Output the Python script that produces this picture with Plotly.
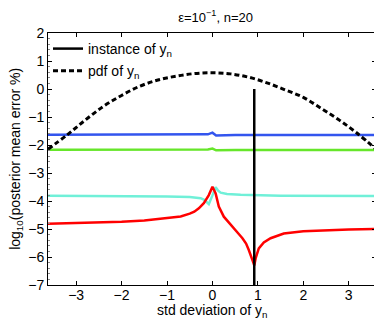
import plotly.graph_objects as go

# axe des x commun (écarts-types de y_n)
x_bleu = [-3.62, -1.0, -0.1, 0.0, 0.08, 0.5, 3.6]
y_bleu = [-1.63, -1.63, -1.62, -1.56, -1.66, -1.64, -1.64]

x_vert = [-3.62, -1.0, -0.1, 0.0, 0.08, 0.5, 3.6]
y_vert = [-2.17, -2.17, -2.16, -2.13, -2.19, -2.18, -2.18]

x_cyan = [-3.62, -2.0, -1.0, -0.5, -0.26, -0.18, -0.12, -0.08, 0.0, 0.07, 0.12, 0.18, 0.32, 0.62, 1.5, 3.6]
y_cyan = [-3.81, -3.82, -3.84, -3.86, -3.90, -3.96, -4.05, -4.11, -3.80, -3.51, -3.62, -3.70, -3.75, -3.78, -3.81, -3.82]

x_rouge = [-3.62, -2.5, -2.0, -1.5, -1.0, -0.7, -0.5, -0.4, -0.3, -0.19, -0.08, 0.0, 0.07, 0.14, 0.25,
           0.36, 0.47, 0.57, 0.66, 0.74, 0.8, 0.86, 0.9, 0.92, 0.95, 1.02, 1.13, 1.28, 1.57, 2.0, 2.5, 3.0, 3.6]
y_rouge = [-4.81, -4.77, -4.74, -4.70, -4.62, -4.55, -4.45, -4.38, -4.26, -4.08, -3.79, -3.49, -3.73, -4.20, -4.56,
           -4.78, -4.98, -5.16, -5.33, -5.52, -5.75, -5.98, -6.20, -6.30, -6.05, -5.69, -5.48, -5.33, -5.16, -5.08, -5.04, -5.02, -5.00]

# densité de y_n (échelle arbitraire)
x_pdf = [-3.62, -3.2, -2.8, -2.4, -2.0, -1.6, -1.2, -0.8, -0.4, 0.0, 0.4, 0.8, 1.2, 1.6, 2.0, 2.4, 2.8, 3.2, 3.6]
y_pdf = [-2.15, -1.64, -1.11, -0.62, -0.23, 0.10, 0.32, 0.46, 0.55, 0.58, 0.54, 0.42, 0.22, -0.03, -0.30, -0.70, -1.12, -1.60, -2.15]

# instance de y_n
x_instance = [0.92, 0.92]
y_instance = [-7, 0]

fig = go.Figure()

for xs, ys, couleur in [(x_bleu, y_bleu, '#3355ee'),
                        (x_vert, y_vert, '#66e62a'),
                        (x_cyan, y_cyan, '#70f0d8'),
                        (x_rouge, y_rouge, '#ff0000')]:
    fig.add_trace(go.Scatter(x=xs, y=ys, mode='lines', showlegend=False,
                             line=dict(color=couleur, width=2.5)))

fig.add_trace(go.Scatter(x=x_instance, y=y_instance, mode='lines', name='instance of y<sub>n</sub>',
                         legendgroup='a', line=dict(color='black', width=2.5)))
fig.add_trace(go.Scatter(x=x_pdf, y=y_pdf, mode='lines', name='pdf of y<sub>n</sub>',
                         legendgroup='b', line=dict(color='black', width=3, dash='5px,3px', shape='spline')))

axe = dict(showline=True, mirror='ticks', linecolor='black', linewidth=1, automargin=False,
           ticks='inside', ticklen=4, tickcolor='black', showgrid=False, zeroline=False,
           tickfont=dict(size=14, color='black'))

# la page garde une marge de 8 px : la figure fait 374x314
fig.update_layout(
    width=374, height=314,
    margin=dict(l=40, r=6, t=25, b=37),
    paper_bgcolor='white', plot_bgcolor='white',
    font=dict(family='Liberation Sans, Arial', size=14, color='black'),
    title=dict(text='ε=10<sup>−1</sup>, n=20', x=0.555, xanchor='center', y=0.985, yanchor='top',
               font=dict(size=13)),
    xaxis=dict(axe, range=[-3.62, 3.6], dtick=1, ticklabelstandoff=-3),
    yaxis=dict(axe, range=[-7, 2], dtick=1, ticklabelstandoff=0,
               minor=dict(ticks='inside', ticklen=2, dtick=0.2, tickcolor='#888')),
    legend=dict(x=0.0, y=1.0, xanchor='left', yanchor='top', bgcolor='rgba(0,0,0,0)',
                itemwidth=30, font=dict(size=14), tracegroupgap=1),
    annotations=[
        dict(text='std deviation of y<sub>n</sub>', xref='paper', yref='paper', x=0.5, y=-0.058,
             xanchor='center', yanchor='top', showarrow=False, font=dict(size=14)),
        dict(text='log<sub>10</sub>(posterior mean error %)', xref='paper', yref='paper', x=-0.098, y=0.5,
             xanchor='center', yanchor='middle', textangle=-90, showarrow=False, font=dict(size=14)),
    ],
)

fig.write_html("out.html")
